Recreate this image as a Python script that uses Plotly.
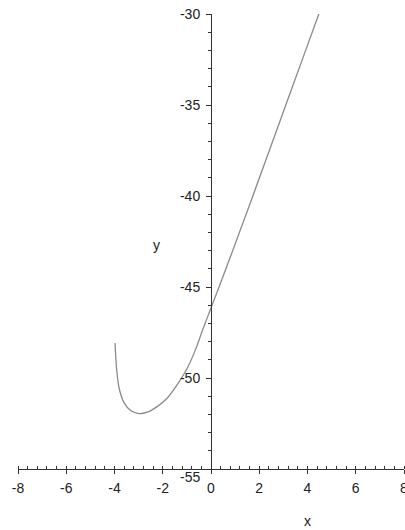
import plotly.graph_objects as go

# Curve values
curve_x = [-3.98, -3.91, -3.81, -3.60, -3.33, -2.98, -2.64, -2.22, -1.81, -1.40,
           -0.98, -0.63, -0.36, 0.0, 0.33, 0.88, 1.75, 3.09, 3.78, 4.47]
curve_y = [-48.08, -49.55, -50.55, -51.37, -51.79, -51.96, -51.88, -51.56, -51.10, -50.37,
           -49.45, -48.40, -47.40, -46.15, -45.01, -43.07, -39.94, -35.04, -32.52, -30.0]

x_ticks = [-8, -6, -4, -2, 0, 2, 4, 6, 8]
y_ticks = [-50, -45, -40, -35, -30]
y_bottom_label = -55
x_range = [-8, 8]
y_range = [-55, -30]

FONT = "Liberation Sans, Arial, sans-serif"
TXT = "#222222"
AX = "#333333"

fig = go.Figure()
fig.add_trace(go.Scatter(x=curve_x, y=curve_y, mode="lines", line_shape="spline",
                         line=dict(color="#8a8a8a", width=1.3, smoothing=0.8),
                         hoverinfo="skip"))

fig.update_layout(
    width=405, height=530,
    template="none",
    plot_bgcolor="white", paper_bgcolor="white",
    margin=dict(l=18, r=1, t=13.5, b=61),
    showlegend=False,
    font=dict(family=FONT, size=14, color=TXT),
    xaxis=dict(range=x_range, tickvals=x_ticks, ticktext=[str(v) for v in x_ticks],
               showline=True, linecolor=AX, linewidth=1, showgrid=False, zeroline=False,
               ticks="outside", ticklen=4, tickcolor=AX, automargin=False,
               ticklabelstandoff=2, ticklabeloverflow="allow",
               minor=dict(dtick=0.4, tick0=0, ticks="inside", ticklen=3, tickcolor=AX,
                          showgrid=False)),
    yaxis=dict(range=y_range, tickvals=y_ticks, ticktext=[str(v) for v in y_ticks],
               anchor="free", position=0.5, side="left",
               showline=True, linecolor=AX, linewidth=1, showgrid=False, zeroline=False,
               ticks="outside", ticklen=5, tickcolor=AX, automargin=False,
               ticklabelstandoff=3, ticklabeloverflow="allow",
               minor=dict(dtick=1, tick0=0, ticks="outside", ticklen=3, tickcolor=AX,
                          showgrid=False)),
)

fig.add_annotation(x=0, y=y_bottom_label, xref="x", yref="y", text=str(y_bottom_label),
                   showarrow=False, xanchor="right", yanchor="middle", xshift=-9, yshift=-8,
                   font=dict(family=FONT, size=14, color=TXT))
fig.add_annotation(x=4, y=0, xref="x", yref="paper", text="x", showarrow=False,
                   xanchor="center", yanchor="middle", yshift=-52,
                   font=dict(family=FONT, size=14, color=TXT))
fig.add_annotation(x=-2.28, y=-42.7, xref="x", yref="y", text="y", showarrow=False,
                   xanchor="center", yanchor="middle",
                   font=dict(family=FONT, size=14, color=TXT))

fig.write_html("out.html", config={"displayModeBar": False},
               post_script="document.body.style.margin='0';document.body.style.overflow='hidden';")
